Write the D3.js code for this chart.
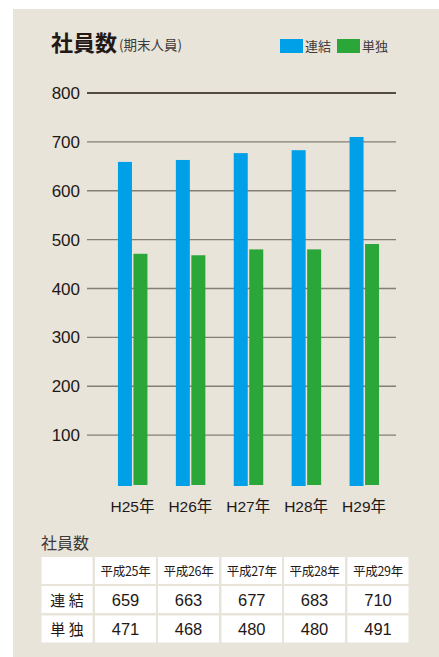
<!DOCTYPE html>
<html>
<head>
<meta charset="utf-8">
<script src="https://cdn.jsdelivr.net/npm/d3@7"></script>
<style>
  body { margin: 0; background: #fff; }
  svg { display: block; font-family: "Liberation Sans", "Noto Sans CJK JP", sans-serif; }
</style>
</head>
<body>
<svg></svg>
<script>
const years = ["H25年", "H26年", "H27年", "H28年", "H29年"];
const tableYears = ["平成25年", "平成26年", "平成27年", "平成28年", "平成29年"];
const consolidated = [659, 663, 677, 683, 710];
const standalone = [471, 468, 480, 480, 491];
const yTicks = [100, 200, 300, 400, 500, 600, 700, 800];

const W = 439, H = 657;
const svg = d3.select('svg').attr('width', W).attr('height', H);

// beige panel
svg.append('rect')
    .attr('x', 13).attr('y', 9)
    .attr('width', W - 13).attr('height', H - 9)
    .attr('fill', '#e8e4da');

const jp = '"Noto Sans CJK JP", sans-serif';

// title
svg.append('text')
    .attr('x', 51).attr('y', 51)
    .attr('font-family', jp).attr('font-weight', 'bold')
    .attr('font-size', 22).attr('fill', '#231815')
    .text('社員数');
svg.append('text')
    .attr('x', 119).attr('y', 50)
    .attr('font-family', jp).attr('font-size', 13.5).attr('fill', '#3e3a39')
    .text('(期末人員)');

// legend
const legend = [["連結", "#00a0e8", 280], ["単独", "#2ba639", 337]];
legend.forEach(([name, color, x]) => {
    svg.append('rect').attr('x', x).attr('y', 39).attr('width', 23).attr('height', 14).attr('fill', color);
    svg.append('text').attr('x', x + 25).attr('y', 51)
        .attr('font-family', jp).attr('font-size', 13).attr('fill', '#3e3a39')
        .text(name);
});

// scales
const yScale = d3.scaleLinear().domain([0, 800]).range([484, 93]);
const xScale = d3.scaleBand().domain(years).range([103.5, 393]);

// grid lines
svg.append('g')
    .selectAll('line')
    .data(yTicks)
    .enter()
    .append('line')
    .attr('x1', 87).attr('x2', 396)
    .attr('y1', d => yScale(d)).attr('y2', d => yScale(d))
    .attr('stroke', d => d === 800 ? '#231815' : '#847e74')
    .attr('stroke-width', 1.4);

// y labels
svg.append('g')
    .selectAll('text')
    .data(yTicks)
    .enter()
    .append('text')
    .attr('x', 80)
    .attr('y', d => yScale(d) + 6)
    .attr('text-anchor', 'end')
    .attr('font-size', 17)
    .attr('fill', '#231815')
    .text(d => d);

// bars
const bw = 14;
svg.append('g')
    .selectAll('rect')
    .data(years)
    .enter()
    .append('rect')
    .attr('x', d => xScale(d) + xScale.bandwidth() / 2 - bw - 0.5)
    .attr('y', (d, i) => yScale(consolidated[i]))
    .attr('width', bw)
    .attr('height', (d, i) => yScale(0) + 2 - yScale(consolidated[i]))
    .attr('fill', '#00a0e8');
svg.append('g')
    .selectAll('rect')
    .data(years)
    .enter()
    .append('rect')
    .attr('x', d => xScale(d) + xScale.bandwidth() / 2 + 1)
    .attr('y', (d, i) => yScale(standalone[i]))
    .attr('width', bw)
    .attr('height', (d, i) => yScale(0) + 1 - yScale(standalone[i]))
    .attr('fill', '#2ba639');

// x labels
svg.append('g')
    .selectAll('text')
    .data(years)
    .enter()
    .append('text')
    .attr('x', d => xScale(d) + xScale.bandwidth() / 2)
    .attr('y', 512)
    .attr('text-anchor', 'middle')
    .attr('font-size', 15.5)
    .attr('fill', '#231815')
    .text(d => d);

// table
svg.append('text')
    .attr('x', 41).attr('y', 549)
    .attr('font-family', jp).attr('font-size', 16).attr('fill', '#3e3a39')
    .text('社員数');

const colX = [41.5, 95, 158, 221.5, 284, 347.5];
const colW = [51, 61, 61, 60.5, 61, 61];
const rowY = [557, 586, 615.5];
const rowH = 27;
const rows = [
    [""].concat(tableYears),
    ["連 結"].concat(consolidated),
    ["単 独"].concat(standalone)
];
rows.forEach((row, r) => {
    row.forEach((val, c) => {
        svg.append('rect')
            .attr('x', colX[c]).attr('y', rowY[r])
            .attr('width', colW[c]).attr('height', rowH)
            .attr('fill', '#ffffff');
        const t = svg.append('text')
            .attr('x', colX[c] + colW[c] / 2)
            .attr('y', rowY[r] + rowH / 2 + (r === 0 ? 5 : 6))
            .attr('text-anchor', 'middle')
            .attr('fill', '#231815')
            .text(val);
        if (r === 0) t.attr('font-family', jp).attr('font-size', 12.5).attr('letter-spacing', -0.3);
        else if (c === 0) t.attr('font-family', jp).attr('font-size', 15);
        else t.attr('font-size', 16.5);
    });
});
</script>
</body>
</html>
